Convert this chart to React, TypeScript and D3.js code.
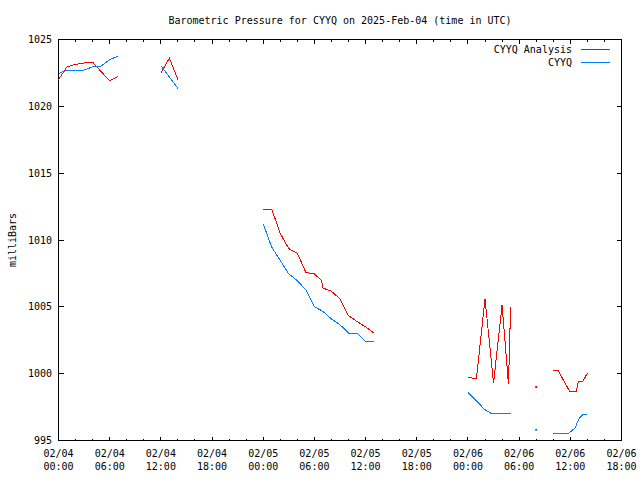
import React from "react";
import * as d3 from "d3";

// Hours since 2025-02-04 00:00 UTC
const analysisTimes: number[] = [0, 1, 2, 3, 4, 5, 6, 7, 9, 12, 13, 14, 18, 24, 25, 26, 27, 28, 29, 30, 30.85, 31, 32, 33, 34, 35, 36, 37, 42, 48, 49, 50, 51, 52, 52.75, 53, 54, 56, 57, 58, 58.6, 59.9, 60.7, 60.95, 61.5, 62];
const analysisValues: (number | null)[] = [1022.0, 1022.96, 1023.14, 1023.24, 1023.3, 1022.6, 1021.9, 1022.26, null, 1022.5, 1023.6, 1022.0, null, 1012.3, 1012.3, 1010.48, 1009.35, 1009.0, 1007.58, 1007.46, 1006.96, 1006.41, 1006.16, 1005.6, 1004.34, 1003.9, 1003.5, 1003.02, null, 999.7, 999.65, 1005.6, 999.3, 1005.15, 999.2, 1004.95, null, 999.0, null, 1000.2, 1000.2, 998.7, 998.7, 999.45, 999.45, 1000.05];

const obsTimes: number[] = [0, 1, 2, 3, 4, 5, 6, 7, 9, 12, 13, 14, 18, 24, 25, 26, 27, 28, 29, 30, 31, 32, 33, 34, 35, 36, 37, 42, 48, 49, 50, 50.8, 52, 53, 54, 56, 57, 58, 59.7, 60.0, 60.55, 60.95, 61.35, 61.5, 62];
const obsValues: (number | null)[] = [1022.46, 1022.71, 1022.71, 1022.71, 1022.96, 1023.01, 1023.5, 1023.76, null, 1023.05, 1022.2, 1021.34, null, 1011.21, 1009.46, 1008.46, 1007.46, 1006.96, 1006.26, 1005.01, 1004.66, 1004.09, 1003.66, 1003.04, 1003.04, 1002.39, 1002.39, null, 998.6, 997.95, 997.3, 997.0, 997.0, 997.0, null, 995.8, null, 995.5, 995.5, 995.65, 995.92, 996.56, 996.88, 996.93, 996.95];

const xMajorTicks: number[] = [0, 6, 12, 18, 24, 30, 36, 42, 48, 54, 60, 66];
const xTickDates: string[] = ["02/04", "02/04", "02/04", "02/04", "02/05", "02/05", "02/05", "02/05", "02/06", "02/06", "02/06", "02/06"];
const xTickTimes: string[] = ["00:00", "06:00", "12:00", "18:00", "00:00", "06:00", "12:00", "18:00", "00:00", "06:00", "12:00", "18:00"];
const yTicks: number[] = [995, 1000, 1005, 1010, 1015, 1020, 1025];

const seriesNames: string[] = ["CYYQ Analysis", "CYYQ"];
const seriesColors: string[] = ["#ff0000", "#0080ff"];
const title = "Barometric Pressure for CYYQ on 2025-Feb-04 (time in UTC)";

const FONT = "'DejaVu Sans Mono', monospace";

type Pt = { t: number; v: number | null };

function toPoints(ts: number[], vs: (number | null)[]): Pt[] {
  return ts.map((t, i) => ({ t, v: vs[i] }));
}

export default function App() {
  const W = 640, H = 480;
  const x = d3.scaleLinear().domain([0, 66]).range([58.5, 621.5]);
  const y = d3.scaleLinear().domain([995, 1025]).range([440.5, 39.5]);

  const line = d3
    .line<Pt>()
    .defined((d) => d.v !== null)
    .x((d) => x(d.t))
    .y((d) => y(d.v as number));

  const series = [toPoints(analysisTimes, analysisValues), toPoints(obsTimes, obsValues)];

  const isolated = (pts: Pt[]) =>
    pts.filter(
      (p, i) =>
        p.v !== null &&
        (i === 0 || pts[i - 1].v === null) &&
        (i === pts.length - 1 || pts[i + 1].v === null)
    );

  const minorTicks = d3.range(0, 67, 2).filter((h) => h % 6 !== 0);
  const [x0, x1] = x.range();
  const [yb, yt] = y.range();

  return (
    <svg width={W} height={H} style={{ position: "absolute", left: 0, top: 0, background: "#fff" }} fontFamily={FONT} fontSize={10}>
      <rect x={0} y={0} width={W} height={H} fill="#fff" />
      <text x={340} y={24} textAnchor="middle" fill="#000">{title}</text>

      {/* frame */}
      <rect x={x0} y={yt} width={x1 - x0} height={yb - yt} fill="none" stroke="#000" strokeWidth={1} shapeRendering="crispEdges" />

      {/* y ticks */}
      {yTicks.map((v) => (
        <g key={"y" + v}>
          <line x1={x0} x2={x0 + 5} y1={y(v)} y2={y(v)} stroke="#000" shapeRendering="crispEdges" />
          <line x1={x1} x2={x1 - 5} y1={y(v)} y2={y(v)} stroke="#000" shapeRendering="crispEdges" />
          <text x={52} y={y(v)} dy="0.35em" textAnchor="end" fill="#000">{v}</text>
        </g>
      ))}

      {/* x ticks */}
      {xMajorTicks.map((h, i) => (
        <g key={"x" + h}>
          <line x1={x(h)} x2={x(h)} y1={yb} y2={yb - 4} stroke="#000" shapeRendering="crispEdges" />
          <line x1={x(h)} x2={x(h)} y1={yt} y2={yt + 4} stroke="#000" shapeRendering="crispEdges" />
          <text x={x(h)} y={457} textAnchor="middle" fill="#000">{xTickDates[i]}</text>
          <text x={x(h)} y={470} textAnchor="middle" fill="#000">{xTickTimes[i]}</text>
        </g>
      ))}
      {minorTicks.map((h) => (
        <g key={"m" + h}>
          <line x1={x(h)} x2={x(h)} y1={yb} y2={yb - 2} stroke="#000" shapeRendering="crispEdges" />
          <line x1={x(h)} x2={x(h)} y1={yt} y2={yt + 2} stroke="#000" shapeRendering="crispEdges" />
        </g>
      ))}

      <text transform="translate(12,240) rotate(-90)" textAnchor="middle" dy="0.35em" fill="#000">milliBars</text>

      {/* series */}
      {series.map((pts, si) => (
        <g key={"s" + si}>
          <path d={line(pts) || ""} fill="none" stroke={seriesColors[si]} strokeWidth={1} shapeRendering="crispEdges" />
          {isolated(pts).map((p, k) => (
            <rect key={k} x={x(p.t) - 1} y={y(p.v as number) - 1} width={2} height={2} fill={seriesColors[si]} />
          ))}
        </g>
      ))}

      {/* legend */}
      {seriesNames.map((n, i) => (
        <g key={"l" + i}>
          <text x={572} y={49.5 + i * 13} dy="0.35em" textAnchor="end" fill="#000">{n}</text>
          <line x1={581} x2={610} y1={49.5 + i * 13} y2={49.5 + i * 13} stroke={seriesColors[i]} shapeRendering="crispEdges" />
        </g>
      ))}
    </svg>
  );
}
